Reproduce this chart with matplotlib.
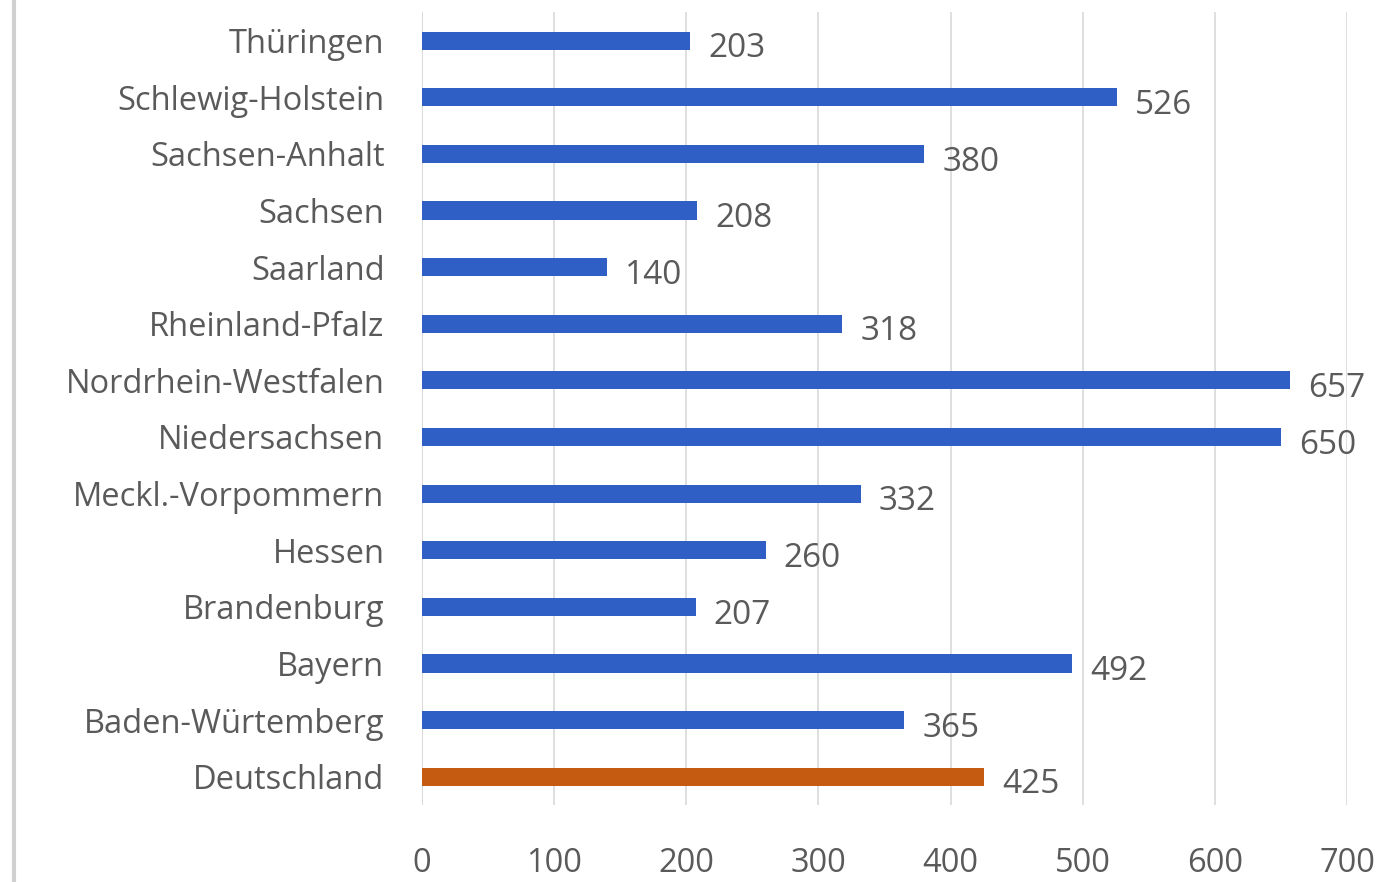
import matplotlib
matplotlib.use("Agg")
import matplotlib.pyplot as plt

categories = ["Deutschland", "Baden-Würtemberg", "Bayern", "Brandenburg", "Hessen",
              "Meckl.-Vorpommern", "Niedersachsen", "Nordrhein-Westfalen", "Rheinland-Pfalz",
              "Saarland", "Sachsen", "Sachsen-Anhalt", "Schlewig-Holstein", "Thüringen"]
values = [425, 365, 492, 207, 260, 332, 650, 657, 318, 140, 208, 380, 526, 203]
xticks = [0, 100, 200, 300, 400, 500, 600, 700]

plt.rcParams['font.family'] = ['Open Sans', 'DejaVu Sans']
fig = plt.figure(figsize=(13.99, 8.82), dpi=100)
ax = fig.add_axes([0.3016, 0.0873, 0.963 - 0.3016, 0.986 - 0.0873])

colors = ["#C55A11"] + ["#2F5FC4"] * (len(categories) - 1)
ypos = list(range(len(categories)))
ax.barh(ypos, values, height=0.32, color=colors, zorder=3)
for y, v in zip(ypos, values):
    ax.annotate(str(v), xy=(v, y), xytext=(13, -3), textcoords='offset points',
                va='center_baseline', ha='left', fontsize=24, color='#5A5A5A')

ax.set_yticks(ypos)
ax.set_yticklabels(categories, fontsize=23.5, color='#5A5A5A')
ax.set_xticks(xticks)
ax.set_xticklabels([str(t) for t in xticks], fontsize=23.5, color='#5A5A5A')
ax.set_xlim(0, 700)
ax.set_ylim(-0.5, len(categories) - 0.5)
ax.tick_params(axis='y', length=0, pad=27)
ax.tick_params(axis='x', length=0, pad=30)
ax.grid(axis='x', color='#D9D9D9', linewidth=1.2, zorder=0)
for s in ax.spines.values():
    s.set_visible(False)
ax.axvline(0, color='#D9D9D9', linewidth=1.2, zorder=1)

fig.add_artist(plt.Line2D([0.0100, 0.0100], [0, 1], transform=fig.transFigure,
                          color='#D0D0D0', linewidth=3))

fig.savefig("out.png", dpi=100, facecolor='white')
